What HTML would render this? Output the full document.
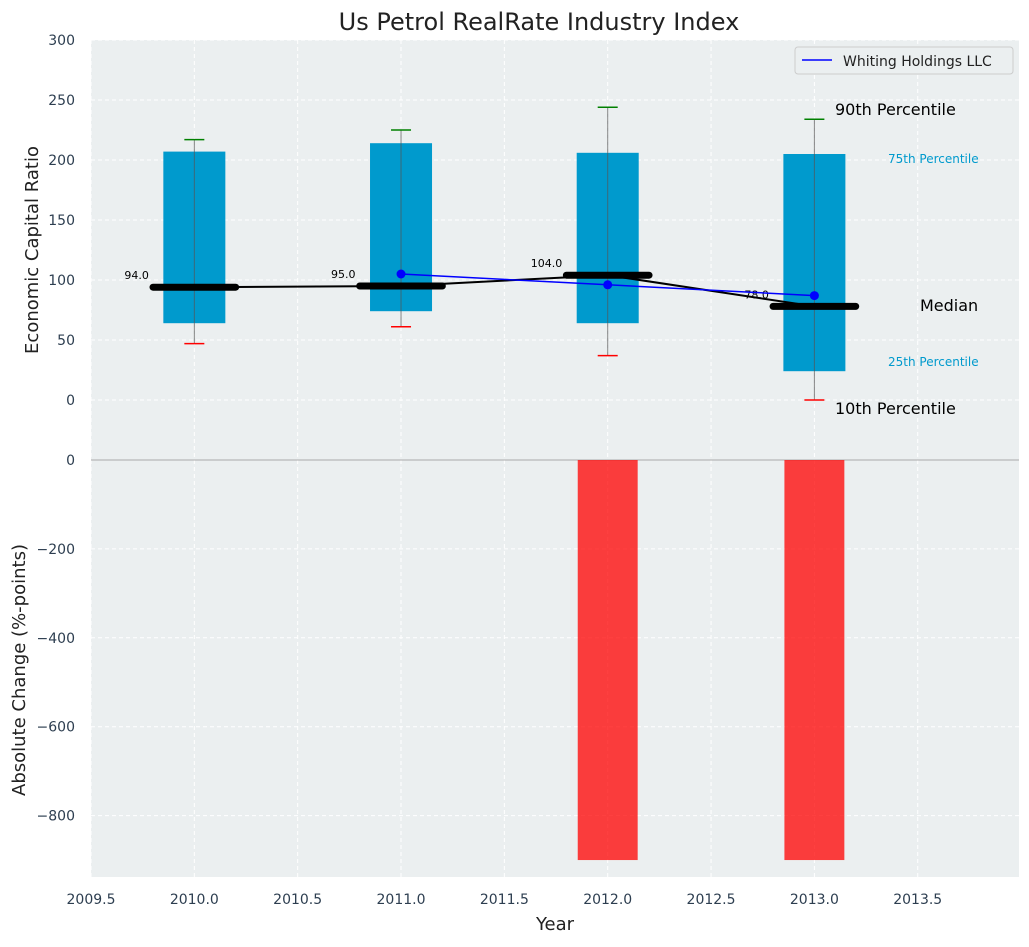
<!DOCTYPE html>
<html><head><meta charset="utf-8"><style>
body{margin:0;background:#fff;}
svg text{font-family:"DejaVu Sans","Liberation Sans",sans-serif;}
</style></head><body>
<svg id="chart" width="1029" height="942" xmlns="http://www.w3.org/2000/svg"></svg>
<script>
const years=[2010,2011,2012,2013];
const p10=[47,61,37,0];
const p25=[64,74,64,24];
const medians=[94,95,104,78];
const p75=[207,214,206,205];
const p90=[217,225,244,234];
const companyYears=[2011,2012,2013];
const companyValues=[105,96,87];
const changeYears=[2010,2011,2012,2013];
const changeValues=[0,0,-900,-900];
const xTicks=[2009.5,2010,2010.5,2011,2011.5,2012,2012.5,2013,2013.5];
const topTicks=[0,50,100,150,200,250,300];
const botTicks=[-800,-600,-400,-200,0];

const L=91,R=1019,T1=40,B1=460,T2=460,B2=877;
const X=v=>L+(v-2009.5)/4.49*(R-L);
const Y1=v=>400-v*1.2;
const Y2=v=>460-v*0.4445;
const svg=document.getElementById('chart');
const NS='http://www.w3.org/2000/svg';
function add(tag,attrs,name,txt){const e=document.createElementNS(NS,tag);for(const k in attrs)e.setAttribute(k,attrs[k]);


if(txt!==undefined)e.textContent=txt;svg.appendChild(e);return e;}

add('rect',{x:L,y:T1,width:R-L,height:B1-T1,fill:'#ebeff0'},'top-plot-area');
add('rect',{x:L,y:T2,width:R-L,height:B2-T2,fill:'#ebeff0'},'bottom-plot-area');
xTicks.forEach(t=>{add('line',{x1:X(t),x2:X(t),y1:T1,y2:B2,stroke:'#fff','stroke-dasharray':'4,3','stroke-width':1},'x-grid-line');
add('text',{x:X(t),y:904,'text-anchor':'middle','font-size':14,fill:'#2d3e50'},'x-tick-label',t.toFixed(1));});
topTicks.forEach(t=>{add('line',{x1:L,x2:R,y1:Y1(t),y2:Y1(t),stroke:'#fff','stroke-dasharray':'4,3'},'top-y-grid-line');
add('text',{x:75,y:Y1(t)+5,'text-anchor':'end','font-size':14,fill:'#2d3e50'},'top-y-tick-label',t);});
botTicks.forEach(t=>{add('line',{x1:L,x2:R,y1:Y2(t),y2:Y2(t),stroke:'#fff','stroke-dasharray':'4,3'},'bottom-y-grid-line');
add('text',{x:75,y:Y2(t)+5,'text-anchor':'end','font-size':14,fill:'#2d3e50'},'bottom-y-tick-label',t<0?'\u2212'+(-t):t);});
add('line',{x1:L,x2:R,y1:460,y2:460,stroke:'#aaa','stroke-width':1},'panel-divider');

years.forEach((yr,i)=>{
 add('rect',{x:X(yr-0.15),y:Y1(p75[i]),width:X(yr+0.15)-X(yr-0.15),height:Y1(p25[i])-Y1(p75[i]),fill:'#009acd'},'iqr-box');
 add('line',{x1:X(yr),x2:X(yr),y1:Y1(p90[i]),y2:Y1(p10[i]),stroke:'#555','stroke-width':1,opacity:0.7},'whisker');
 add('line',{x1:X(yr)-10,x2:X(yr)+10,y1:Y1(p90[i]),y2:Y1(p90[i]),stroke:'green','stroke-width':1.5},'p90-cap');
 add('line',{x1:X(yr)-10,x2:X(yr)+10,y1:Y1(p10[i]),y2:Y1(p10[i]),stroke:'red','stroke-width':1.5},'p10-cap');
});
add('polyline',{points:years.map((y,i)=>X(y)+','+Y1(medians[i])).join(' '),fill:'none',stroke:'#000','stroke-width':2},'median-line');
years.forEach((yr,i)=>{
 add('line',{x1:X(yr-0.2),x2:X(yr+0.2),y1:Y1(medians[i]),y2:Y1(medians[i]),stroke:'#000','stroke-width':7,'stroke-linecap':'round'},'median-bar');
 add('text',{x:X(yr-0.22),y:Y1(medians[i])-8,'text-anchor':'end','font-size':11,fill:'#000'},'median-label',medians[i].toFixed(1));
});
add('polyline',{points:companyYears.map((y,i)=>X(y)+','+Y1(companyValues[i])).join(' '),fill:'none',stroke:'blue','stroke-width':1.5},'company-line');
companyYears.forEach((y,i)=>add('circle',{cx:X(y),cy:Y1(companyValues[i]),r:4.5,fill:'blue'},'company-point'));
changeYears.forEach((y,i)=>{const v=changeValues[i];if(v===0)return;
 add('rect',{x:X(y-0.145),y:Y2(0),width:X(y+0.145)-X(y-0.145),height:Y2(v)-Y2(0),fill:'#ff0000',opacity:0.75},'change-bar');});

add('text',{x:835,y:115,'font-size':16},'p90-annotation','90th Percentile');
add('text',{x:888,y:163,'font-size':12,fill:'#009acd'},'p75-annotation','75th Percentile');
add('text',{x:920,y:311,'font-size':16},'median-annotation','Median');
add('text',{x:888,y:366,'font-size':12,fill:'#009acd'},'p25-annotation','25th Percentile');
add('text',{x:835,y:414,'font-size':16},'p10-annotation','10th Percentile');

add('rect',{x:795,y:47,width:218,height:27,fill:'#ebeff0',stroke:'#ccc',rx:3},'legend-box');
add('line',{x1:802,x2:832,y1:60,y2:60,stroke:'blue','stroke-width':1.5},'legend-line');
add('text',{x:843,y:66,'font-size':14,fill:'#222'},'legend-label','Whiting Holdings LLC');

add('text',{x:539,y:30,'text-anchor':'middle','font-size':24,fill:'#222'},'chart-title','Us Petrol RealRate Industry Index');
add('text',{x:555,y:930,'text-anchor':'middle','font-size':18,fill:'#222'},'x-axis-title','Year');
add('text',{x:38,y:250,'text-anchor':'middle','font-size':18,fill:'#222',transform:'rotate(-90 38 250)'},'top-y-axis-title','Economic Capital Ratio');
add('text',{x:25,y:670,'text-anchor':'middle','font-size':18,fill:'#222',transform:'rotate(-90 25 670)'},'bottom-y-axis-title','Absolute Change (%-points)');
</script>
</body></html>
